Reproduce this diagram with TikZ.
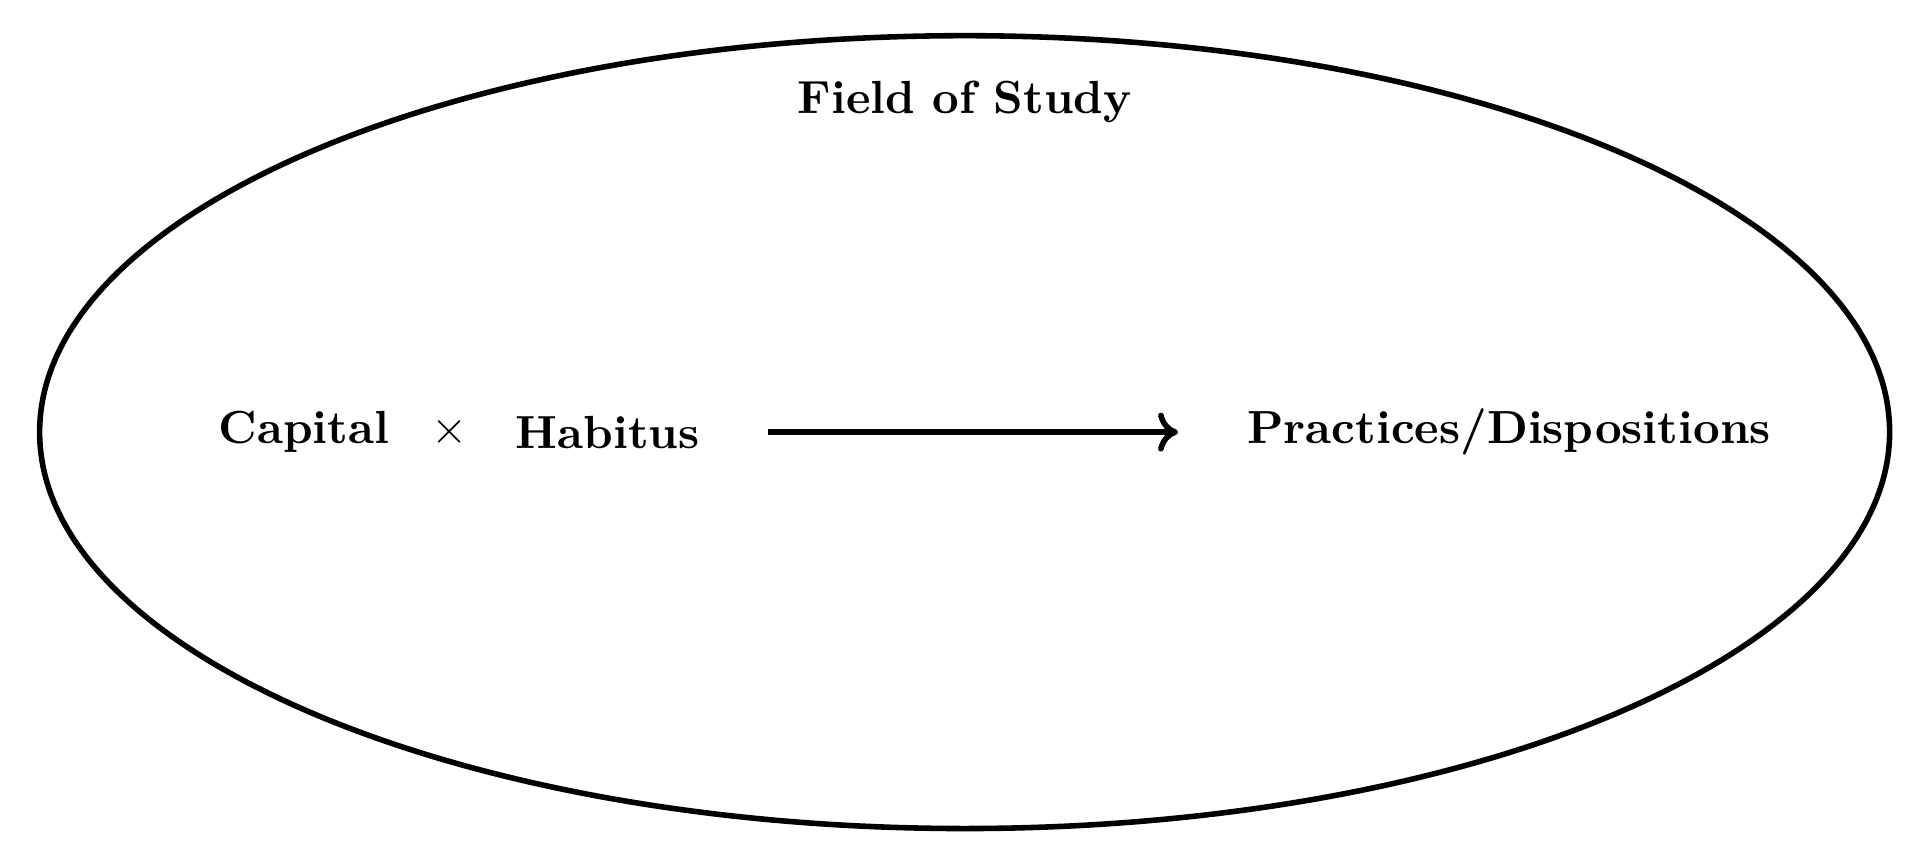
\documentclass[tikz,border=0pt]{standalone}
\usepackage{amsmath}
\usepackage{tikz}
\usetikzlibrary{arrows,arrows.meta,shapes,positioning}
\tikzstyle{field} = [ellipse, draw=black, very thick, minimum width=14cm, minimum height=6cm, inner sep=0pt]
\tikzstyle{term} = [font=\bfseries, text centered]
\tikzstyle{arrow} = [very thick,-{Computer Modern Rightarrow[width=8.4pt, length=4.3pt]},color=black]

\begin{document}
\begin{tikzpicture}
\useasboundingbox (-7.30,-3.19) rectangle (7.23,3.27);
% Field
\node (field) [field] at (0,0) {};
\node (title) [term] at (0,2.5) {Field of Study};

% Terms
\node (capital) [term] at (-5,0) {Capital};
\node (times) [right of=capital, node distance=1.1cm] {$\times$};
\node (habitus) [term, right of=times, node distance=1.2cm] {Habitus};
\node (practices) [term] at (4.12,0) {Practices/Dispositions};

% Arrow
\draw[arrow, shorten <=0.39cm, shorten >=0.4cm] (habitus) -- (practices);
\end{tikzpicture}
\end{document}
